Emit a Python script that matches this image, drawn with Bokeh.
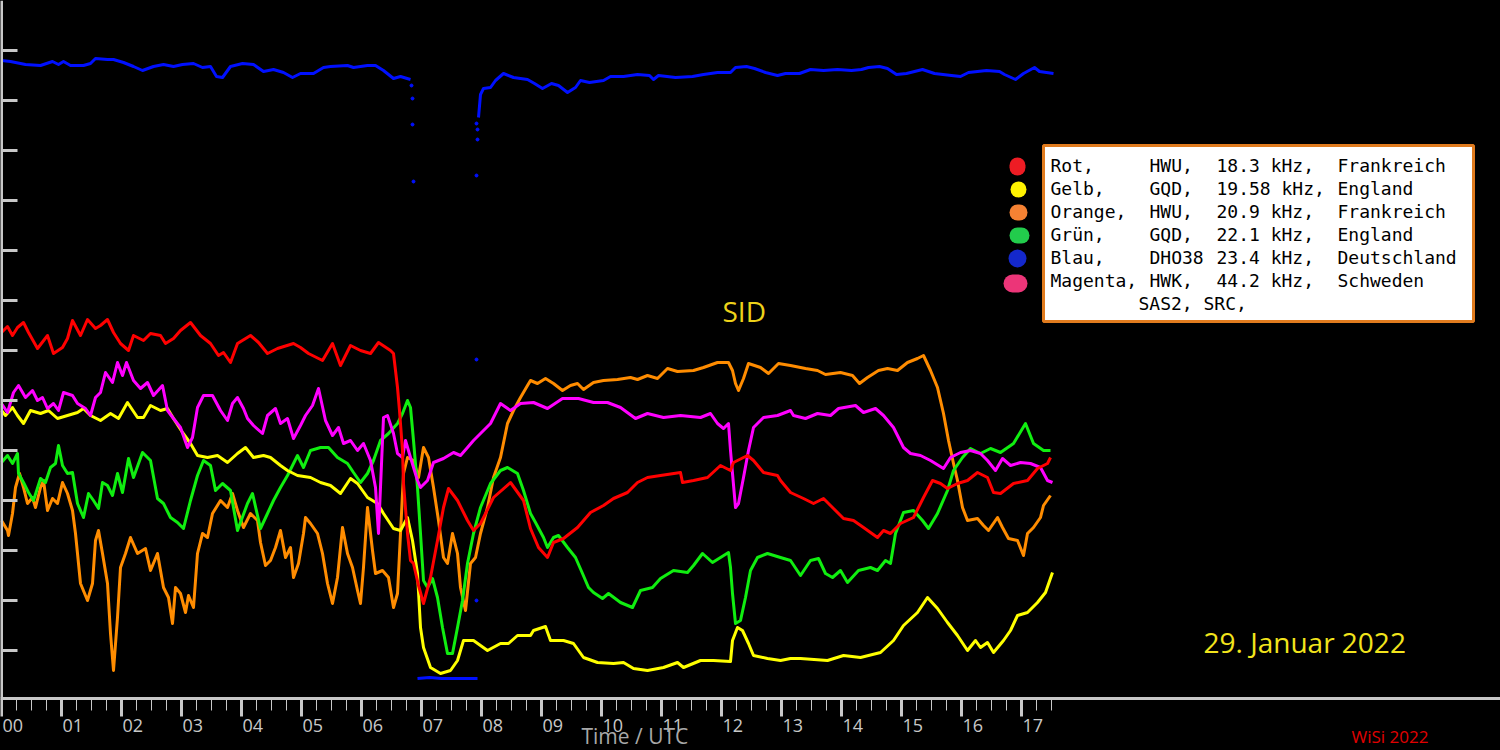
from bokeh.plotting import figure
from bokeh.models import Range1d, FixedTicker, ColumnDataSource, LabelSet, Label, BoxAnnotation
from bokeh.embed import file_html
from bokeh.resources import INLINE
from bokeh.core.properties import value

# ---------------- data (time in minutes after 00:00 UTC, signal level in relative units) -------------
hour_ticks = [h * 60 for h in range(18)]
hour_labels = ["%02d" % h for h in range(18)]
minor_ticks = [m for m in range(15, 1051, 15) if m % 60]
level_ticks = [50, 100, 150, 200, 250, 300, 350, 400, 450, 500, 550, 600, 650]

red_min = [0, 6, 11, 16, 22, 27, 36, 46, 52, 61, 66, 71, 79, 86, 94, 99, 106, 112, 119, 127, 132, 142, 149,
           159, 164, 172, 179, 189, 199, 209, 217, 222, 229, 236, 249, 257, 266, 276, 292, 299, 307, 321,
           331, 339, 349, 359, 369, 377, 389, 392, 394, 396, 398, 401, 402, 406, 409, 412, 417, 422, 429,
           436, 442, 447, 456, 466, 472, 479, 492, 509, 522, 529, 537, 546, 552, 562, 576, 589, 602, 612,
           626, 636, 646, 659, 679, 681, 692, 706, 719, 729, 732, 746, 752, 762, 776, 779, 789, 802, 812,
           822, 832, 842, 852, 862, 876, 882, 889, 899, 912, 922, 931, 939, 946, 956, 966, 976, 986, 992,
           999, 1012, 1026, 1036, 1046, 1049]
red_lvl = [368, 374, 365, 373, 378, 368, 352, 365, 347, 353, 362, 380, 365, 381, 372, 375, 381, 368, 357, 350,
           365, 360, 367, 365, 357, 362, 370, 378, 365, 357, 345, 348, 338, 357, 365, 358, 347, 352, 357,
           353, 347, 340, 357, 335, 355, 350, 347, 358, 350, 347, 330, 313, 290, 250, 217, 167, 140, 137,
           115, 97, 123, 160, 193, 212, 200, 180, 170, 177, 203, 218, 200, 172, 153, 143, 158, 162, 173,
           188, 195, 202, 208, 218, 223, 225, 228, 218, 220, 223, 235, 230, 238, 245, 240, 228, 225, 220,
           208, 202, 197, 202, 192, 182, 180, 173, 163, 170, 167, 177, 183, 203, 220, 217, 212, 217, 220,
           228, 223, 208, 207, 217, 220, 232, 237, 243]

yellow_min = [0, 4, 11, 16, 22, 29, 39, 47, 56, 66, 76, 82, 89, 99, 109, 117, 126, 136, 142, 149, 159, 166,
              172, 181, 189, 196, 206, 216, 226, 236, 244, 252, 262, 269, 279, 286, 296, 309, 319, 329, 339,
              349, 356, 366, 376, 382, 392, 399, 406, 411, 416, 419, 422, 429, 439, 449, 456, 462, 472, 486,
              499, 507, 516, 529, 532, 544, 549, 562, 572, 582, 596, 612, 622, 632, 646, 662, 676, 682, 699,
              712, 729, 731, 736, 741, 747, 752, 766, 779, 789, 799, 826, 842, 859, 879, 892, 902, 916, 926,
              936, 946, 956, 966, 974, 979, 986, 992, 1002, 1009, 1016, 1026, 1036, 1044, 1051]
yellow_lvl = [290, 285, 293, 285, 277, 290, 287, 290, 282, 285, 288, 292, 285, 280, 287, 282, 298, 283, 283,
              295, 290, 292, 282, 268, 257, 245, 243, 245, 238, 247, 253, 243, 245, 243, 235, 230, 225, 223,
              218, 215, 207, 222, 217, 203, 197, 187, 172, 170, 183, 160, 127, 73, 53, 33, 27, 30, 40, 60,
              60, 50, 57, 57, 65, 65, 70, 74, 60, 60, 57, 43, 38, 37, 38, 32, 30, 33, 38, 33, 40, 40, 39,
              60, 73, 70, 57, 45, 42, 40, 42, 42, 40, 45, 43, 48, 60, 75, 88, 103, 92, 78, 65, 50, 60, 53,
              58, 48, 60, 70, 85, 88, 98, 108, 128]

orange_min = [0, 6, 7, 11, 14, 18, 22, 26, 31, 34, 39, 42, 46, 51, 56, 61, 66, 71, 74, 79, 86, 91, 94, 97,
              101, 106, 109, 112, 116, 119, 124, 129, 136, 144, 149, 156, 162, 167, 171, 174, 179, 184, 187,
              192, 196, 201, 206, 211, 219, 226, 231, 236, 242, 249, 256, 259, 264, 269, 274, 279, 284, 289,
              292, 297, 302, 304, 309, 316, 321, 326, 331, 336, 341, 346, 351, 356, 359, 362, 366, 371, 374,
              381, 387, 392, 396, 399, 402, 406, 412, 417, 422, 427, 432, 437, 442, 446, 451, 456, 459, 464,
              469, 474, 479, 486, 492, 499, 506, 512, 519, 526, 529, 536, 544, 552, 561, 569, 576, 582, 592,
              602, 616, 629, 636, 646, 656, 666, 676, 692, 702, 716, 727, 731, 734, 737, 742, 747, 759, 767,
              777, 789, 804, 816, 824, 839, 851, 858, 866, 877, 886, 896, 906, 916, 922, 929, 936, 942, 947,
              952, 956, 961, 966, 976, 982, 987, 996, 1001, 1007, 1016, 1022, 1026, 1032, 1039, 1042, 1049]
orange_lvl = [180, 170, 165, 187, 213, 227, 213, 197, 203, 193, 213, 220, 190, 202, 197, 218, 207, 190, 167,
              117, 100, 117, 160, 170, 147, 117, 67, 30, 83, 133, 147, 163, 147, 152, 130, 147, 113, 103,
              77, 113, 107, 88, 105, 93, 147, 167, 163, 187, 200, 193, 207, 190, 173, 187, 180, 158, 135,
              140, 153, 170, 143, 153, 123, 137, 167, 183, 177, 167, 147, 117, 97, 123, 173, 147, 133, 110,
              97, 133, 193, 150, 127, 130, 123, 93, 107, 167, 227, 243, 240, 223, 253, 243, 213, 180, 143,
              137, 167, 147, 113, 90, 137, 143, 167, 193, 223, 243, 277, 290, 303, 315, 320, 317, 322, 317,
              310, 315, 317, 311, 318, 320, 321, 323, 321, 325, 322, 332, 329, 330, 333, 338, 338, 330, 317,
              310, 322, 337, 333, 327, 337, 335, 332, 330, 326, 328, 325, 317, 323, 330, 332, 330, 338, 342,
              345, 330, 313, 287, 260, 237, 220, 193, 180, 182, 175, 170, 183, 173, 162, 160, 145, 167, 173,
              183, 195, 205]

green_min = [0, 6, 11, 16, 17, 22, 27, 32, 39, 44, 49, 54, 57, 61, 66, 71, 76, 82, 87, 92, 97, 101, 106, 111,
             116, 121, 127, 132, 141, 149, 156, 162, 169, 176, 182, 189, 196, 202, 209, 214, 221, 229, 236,
             246, 251, 259, 266, 272, 279, 286, 292, 296, 302, 309, 319, 327, 336, 346, 352, 359, 366, 372,
             379, 387, 396, 401, 406, 409, 412, 416, 419, 422, 426, 431, 436, 441, 446, 451, 456, 461, 466,
             472, 479, 489, 499, 506, 516, 522, 529, 534, 542, 546, 552, 557, 566, 574, 581, 587, 592, 601,
             607, 619, 631, 639, 651, 659, 672, 686, 692, 701, 711, 719, 727, 729, 731, 734, 739, 744, 749,
             756, 766, 779, 789, 799, 809, 817, 824, 831, 839, 846, 857, 869, 876, 884, 889, 894, 902, 912,
             921, 927, 936, 946, 952, 961, 969, 979, 989, 999, 1012, 1024, 1032, 1042, 1049]
green_lvl = [238, 245, 237, 247, 227, 218, 208, 200, 222, 218, 233, 237, 255, 235, 227, 228, 197, 183, 207,
             200, 192, 218, 215, 205, 227, 208, 242, 223, 248, 240, 202, 197, 183, 178, 172, 200, 225, 240,
             235, 210, 217, 210, 170, 197, 207, 172, 187, 200, 213, 225, 237, 245, 233, 250, 253, 253, 243,
             237, 228, 218, 227, 240, 260, 267, 277, 287, 300, 293, 260, 213, 167, 120, 113, 122, 103, 73,
             47, 47, 73, 100, 137, 167, 193, 217, 230, 233, 227, 210, 187, 178, 163, 153, 163, 165, 153,
             143, 127, 113, 108, 102, 107, 98, 93, 110, 113, 122, 130, 128, 135, 147, 138, 143, 148, 133,
             107, 77, 80, 103, 130, 143, 147, 143, 140, 125, 140, 142, 127, 123, 130, 118, 130, 133, 130,
             140, 137, 167, 188, 190, 180, 172, 187, 210, 230, 243, 252, 247, 252, 248, 257, 277, 257, 250,
             250]

magenta_min = [0, 6, 12, 17, 24, 31, 36, 41, 46, 52, 57, 62, 71, 76, 84, 89, 94, 99, 104, 111, 116, 121, 125,
               132, 139, 146, 152, 161, 166, 172, 179, 186, 191, 196, 202, 211, 219, 226, 231, 236, 242, 246,
               252, 261, 266, 274, 279, 286, 292, 299, 304, 311, 317, 324, 331, 337, 342, 349, 356, 362, 369,
               374, 377, 382, 386, 392, 396, 401, 404, 409, 416, 419, 426, 432, 442, 452, 459, 466, 472, 479,
               489, 499, 509, 519, 532, 546, 561, 577, 592, 606, 619, 634, 646, 662, 679, 699, 709, 716, 722,
               727, 729, 731, 734, 737, 742, 747, 752, 762, 776, 789, 792, 804, 816, 829, 837, 854, 862, 874,
               882, 892, 902, 909, 919, 929, 942, 949, 959, 969, 979, 986, 994, 1001, 1009, 1019, 1029, 1039,
               1046, 1051]
magenta_lvl = [297, 288, 308, 315, 303, 310, 300, 303, 292, 297, 290, 308, 305, 297, 292, 285, 303, 308, 328,
               318, 338, 325, 338, 320, 312, 318, 305, 315, 290, 282, 273, 253, 263, 293, 305, 305, 290, 280,
               297, 303, 292, 282, 275, 267, 285, 292, 277, 282, 262, 275, 285, 295, 312, 280, 265, 273, 257,
               260, 250, 257, 240, 213, 167, 283, 285, 267, 247, 243, 260, 243, 220, 213, 220, 238, 242, 248,
               245, 253, 260, 267, 277, 297, 290, 297, 298, 292, 302, 302, 298, 298, 293, 282, 287, 283, 285,
               283, 287, 277, 272, 277, 250, 227, 193, 197, 223, 250, 273, 283, 285, 290, 285, 282, 287, 285,
               292, 295, 288, 292, 285, 273, 253, 247, 245, 240, 232, 243, 248, 250, 247, 240, 230, 242, 235,
               238, 237, 233, 220, 218]

blue_pre_min = [0, 9, 24, 39, 51, 57, 62, 69, 82, 89, 94, 106, 112, 122, 132, 141, 152, 162, 172, 181, 192,
                201, 209, 215, 221, 229, 241, 252, 262, 272, 282, 291, 299, 312, 322, 329, 346, 352, 366, 374,
                382, 392, 399, 409]
blue_pre_lvl = [640, 639, 636, 635, 639, 636, 639, 635, 635, 637, 642, 641, 641, 638, 634, 630, 634, 636, 634,
                636, 637, 633, 634, 624, 623, 634, 637, 636, 629, 631, 628, 623, 627, 627, 633, 634, 635, 633,
                635, 635, 630, 622, 624, 621]
blue_sid_min = [416, 428, 440, 452, 464, 476]
blue_sid_lvl = [22, 23, 22, 22, 22, 22]
blue_jump_min = [410, 411, 411, 412, 475, 475, 475, 476, 476, 475]
blue_jump_lvl = [615, 602, 576, 519, 341, 100, 525, 561, 571, 577]
blue_post_min = [477, 479, 482, 489, 494, 502, 512, 526, 533, 541, 550, 557, 566, 574, 579, 588, 602, 609, 622,
                 636, 648, 652, 657, 674, 691, 702, 716, 729, 734, 745, 753, 764, 776, 784, 798, 809, 822, 836,
                 850, 860, 867, 878, 886, 895, 905, 921, 933, 950, 959, 967, 985, 998, 1003, 1014, 1022, 1033,
                 1038, 1052]
blue_post_lvl = [583, 606, 612, 613, 620, 627, 623, 621, 617, 612, 617, 615, 608, 613, 620, 618, 620, 624, 624,
                 626, 625, 621, 625, 623, 624, 626, 628, 628, 633, 634, 632, 628, 625, 627, 627, 631, 630, 631,
                 630, 631, 633, 634, 632, 626, 627, 631, 627, 625, 624, 628, 630, 629, 626, 621, 627, 633, 629,
                 627]

legend_names = ["Rot,", "Gelb,", "Orange,", "Grün,", "Blau,", "Magenta,"]
legend_stations = ["HWU,", "GQD,", "HWU,", "GQD,", "DHO38", "HWK,"]
legend_freqs = ["18.3 kHz,", "19.58 kHz,", "20.9 kHz,", "22.1 kHz,", "23.4 kHz,", "44.2 kHz,"]
legend_countries = ["Frankreich", "England", "Frankreich", "England", "Deutschland", "Schweden"]
legend_extra = "SAS2, SRC,"
legend_dot_colors = ["#ee1c24", "#fff200", "#f58233", "#22cc4c", "#1428cc", "#ec3578"]

title_date = "29. Januar 2022"
event_text = "SID"
axis_title = "Time / UTC"
credit = "WiSi 2022"

series_colors = {"red": "#ff0000", "yellow": "#ffff00", "orange": "#ff8c00",
                 "green": "#10ee10", "blue": "#0010ff", "magenta": "#ff00ff"}

# ---------------- layout (the frame covers the whole canvas: 1 px per minute, 1 px per level unit) ----------
W, H = 1500, 750
AXIS_LEVEL = 2      # level at which the time axis line sits
AXIS_GREY = "#c8c8c8"
TEXT_SHIFT = 0.45   # baseline correction for single labels (fraction of font size)


def sx(px):
    return px


def sy(py, fs=0):
    return H - py + TEXT_SHIFT * fs


p = figure(width=W, height=H, output_backend="svg", toolbar_location=None,
           x_range=Range1d(-1, W - 1), y_range=Range1d(-50, 700),
           background_fill_color="black", border_fill_color="black",
           min_border_left=0, min_border_right=0, min_border_top=0, min_border_bottom=0)
p.outline_line_color = None
p.xgrid.visible = False
p.ygrid.visible = False

xa = p.xaxis[0]
xa.fixed_location = AXIS_LEVEL
xa.ticker = FixedTicker(ticks=hour_ticks, minor_ticks=minor_ticks)
xa.axis_line_color = AXIS_GREY
xa.axis_line_width = 3
xa.major_tick_line_color = AXIS_GREY
xa.major_tick_line_width = 3
xa.major_tick_in = 0
xa.major_tick_out = 18
xa.minor_tick_line_color = AXIS_GREY
xa.minor_tick_line_width = 1
xa.minor_tick_in = 0
xa.minor_tick_out = 12
xa.major_label_text_color = None

ya = p.yaxis[0]
ya.fixed_location = 0
ya.bounds = (AXIS_LEVEL, 700)
ya.ticker = FixedTicker(ticks=level_ticks, minor_ticks=[])
ya.axis_line_color = AXIS_GREY
ya.axis_line_width = 3
ya.major_tick_line_color = AXIS_GREY
ya.major_tick_line_width = 3
ya.major_tick_in = 16
ya.major_tick_out = 0
ya.minor_tick_line_color = None
ya.major_label_text_color = None

# ---------------- traces ----------------
LW = 3
p.line(orange_min, orange_lvl, line_color=series_colors["orange"], line_width=LW, line_join="round")
p.line(green_min, green_lvl, line_color=series_colors["green"], line_width=LW, line_join="round")
p.line(yellow_min, yellow_lvl, line_color=series_colors["yellow"], line_width=LW, line_join="round")
p.line(magenta_min, magenta_lvl, line_color=series_colors["magenta"], line_width=LW, line_join="round")
p.line(red_min, red_lvl, line_color=series_colors["red"], line_width=LW, line_join="round")
p.line(blue_pre_min, blue_pre_lvl, line_color=series_colors["blue"], line_width=LW, line_join="round")
p.line(blue_sid_min, blue_sid_lvl, line_color=series_colors["blue"], line_width=LW, line_join="round")
p.line(blue_post_min, blue_post_lvl, line_color=series_colors["blue"], line_width=LW, line_join="round")
p.scatter(blue_jump_min, blue_jump_lvl, size=3, marker="circle", fill_color=series_colors["blue"],
          line_color=series_colors["blue"])

# ---------------- hour labels, axis title, credit ----------------
hours_src = ColumnDataSource(dict(x=hour_ticks, text=hour_labels, y=[sy(731)] * len(hour_ticks)))
p.add_layout(LabelSet(x="x", y="y", text="text", source=hours_src, x_units="data", y_units="screen",
                      x_offset=1, text_align="left", text_baseline="alphabetic",
                      text_font=value("Open Sans"), text_font_size=value("18px"),
                      text_color=value(AXIS_GREY)))

p.add_layout(Label(x=sx(581), y=sy(745, 21), x_units="screen", y_units="screen", text=axis_title,
                   text_font="Open Sans", text_font_size="21px", text_color="#a8a8a8",
                   text_align="left", text_baseline="alphabetic"))
p.add_layout(Label(x=sx(1351), y=sy(744, 17), x_units="screen", y_units="screen", text=credit,
                   text_font="Open Sans", text_font_size="17px", text_color="#e00000",
                   text_align="left", text_baseline="alphabetic"))

p.add_layout(Label(x=sx(722), y=sy(323, 28), x_units="screen", y_units="screen", text=event_text,
                   text_font="Open Sans", text_font_size="28px", text_color="#eed21a",
                   text_align="left", text_baseline="alphabetic"))
p.add_layout(Label(x=sx(1203), y=sy(654, 28), x_units="screen", y_units="screen", text=title_date,
                   text_font="Open Sans", text_font_size="28px", text_color="#f2e41c",
                   text_align="left", text_baseline="alphabetic"))

# ---------------- legend box ----------------
p.add_layout(BoxAnnotation(left=sx(1043), right=sx(1473), top=sy(145), bottom=sy(321),
                           left_units="screen", right_units="screen", top_units="screen",
                           bottom_units="screen", fill_color="white", fill_alpha=1.0,
                           line_color="#e07b1e", line_width=3, line_alpha=1.0))

dot_geom = [(1017, 166, 16, 18), (1018, 189, 16, 16), (1018, 212, 18, 16),
            (1019, 235, 20, 16), (1017, 258, 18, 18), (1015, 283, 24, 18)]
for (cx, cy, w, h), c in zip(dot_geom, legend_dot_colors):
    p.add_layout(BoxAnnotation(left=sx(cx - w / 2), right=sx(cx + w / 2), top=sy(cy - h / 2),
                               bottom=sy(cy + h / 2), left_units="screen", right_units="screen",
                               top_units="screen", bottom_units="screen", fill_color=c, fill_alpha=1.0,
                               line_color=None, border_radius=int(min(w, h) // 2)))

col_px = [1050, 1149, 1216, 1337]
MONO = "DejaVu Sans Mono"
for i in range(len(legend_names)):
    base = 173 + 23 * i
    for col, txt in zip(col_px, [legend_names[i], legend_stations[i], legend_freqs[i], legend_countries[i]]):
        p.add_layout(Label(x=sx(col), y=sy(base, 18), x_units="screen", y_units="screen", text=txt,
                           text_font=MONO, text_font_size="18px", text_color="black",
                           text_align="left", text_baseline="alphabetic"))
p.add_layout(Label(x=sx(1138), y=sy(173 + 23 * 6, 18), x_units="screen", y_units="screen", text=legend_extra,
                   text_font=MONO, text_font_size="18px", text_color="black",
                   text_align="left", text_baseline="alphabetic"))

TEMPLATE = """{% block preamble %}<style>html, body { margin: 0; padding: 0; background-color: #000000; overflow: hidden; }</style>{% endblock %}"""

open("out.html", "w").write(file_html(p, INLINE, title="SID 29. Januar 2022", template=TEMPLATE))
